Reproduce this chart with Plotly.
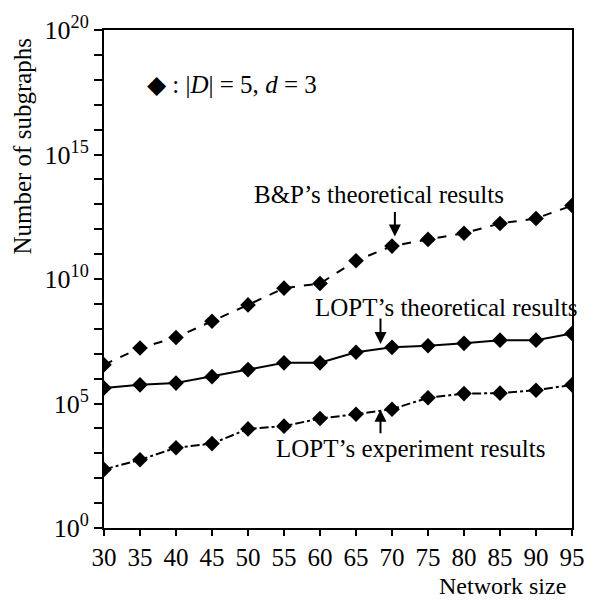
import plotly.graph_objects as go

network_size = [30, 35, 40, 45, 50, 55, 60, 65, 70, 75, 80, 85, 90, 95]
bp_theoretical = [3.6e6, 1.7e7, 4.5e7, 2.0e8, 9.1e8, 4.3e9, 6.6e9, 5.4e10,
                  2.1e11, 3.9e11, 6.9e11, 1.7e12, 2.7e12, 8.9e12]
lopt_theoretical = [4.2e5, 5.6e5, 6.6e5, 1.2e6, 2.3e6, 4.3e6, 4.3e6, 1.15e7,
                    1.8e7, 2.1e7, 2.6e7, 3.5e7, 3.5e7, 6.5e7]
lopt_experiment = [224, 550, 1660, 2450, 9550, 1.23e4, 2.5e4, 3.7e4,
                   5.9e4, 1.7e5, 2.5e5, 2.6e5, 3.4e5, 5.6e5]

x_ticks = list(range(30, 100, 5))
y_exps = list(range(0, 21))
y_tickvals = [float(10.0 ** e) for e in y_exps]
y_ticktext = [f"10<sup>{e}</sup>" if e % 5 == 0 else "" for e in y_exps]

FONT = "Liberation Serif"

fig = go.Figure()
for name, vals, dash in [
    ("B&P's theoretical results", bp_theoretical, "dash"),
    ("LOPT's theoretical results", lopt_theoretical, "solid"),
    ("LOPT's experiment results", lopt_experiment, "dashdot"),
]:
    fig.add_trace(go.Scatter(
        x=network_size, y=vals, mode="lines+markers", name=name,
        line=dict(color="black", width=2, dash=dash),
        marker=dict(symbol="diamond", size=12, color="black"),
        showlegend=False,
    ))

fig.update_layout(
    width=597, height=602,
    margin=dict(l=104, r=14, t=19, b=74),
    paper_bgcolor="white", plot_bgcolor="white",
    font=dict(family=FONT, size=25, color="black"),
)
fig.update_xaxes(
    range=[30, 95], tickvals=x_ticks, ticks="outside", ticklen=6, tickwidth=2,
    tickcolor="black", showline=True, linecolor="black", linewidth=2, mirror=True,
    showgrid=False, zeroline=False, tickfont=dict(size=25, family=FONT),
)
fig.update_yaxes(
    type="log", range=[0, 20], tickvals=y_tickvals, ticktext=y_ticktext,
    ticks="outside", ticklen=8, tickwidth=2, tickcolor="black",
    showline=True, linecolor="black", linewidth=2, mirror=True,
    showgrid=False, zeroline=False, tickfont=dict(size=26, family=FONT),
)

annotations = [
    dict(x=35.7, y=17.8, text="◆ : |<i>D</i>| = 5, <i>d</i> = 3", xanchor="left",
         showarrow=False, font=dict(size=25)),
    dict(x=68.2, y=13.4, text="B&P’s theoretical results", showarrow=False,
         font=dict(size=25)),
    dict(x=77.5, y=8.84, text="LOPT’s theoretical results", showarrow=False,
         font=dict(size=25)),
    dict(x=72.5, y=3.18, text="LOPT’s experiment results", showarrow=False,
         font=dict(size=25)),
    dict(x=70.4, y=11.71, text="", showarrow=True, ax=0, ay=-26, arrowhead=2,
         arrowsize=1.2, arrowwidth=2, arrowcolor="black"),
    dict(x=68.4, y=7.39, text="", showarrow=True, ax=0, ay=-27, arrowhead=2,
         arrowsize=1.2, arrowwidth=2, arrowcolor="black"),
    dict(x=68.4, y=4.75, text="", showarrow=True, ax=0, ay=25, arrowhead=2,
         arrowsize=1.2, arrowwidth=2, arrowcolor="black"),
    dict(x=1, y=-0.116, xref="paper", yref="paper", xanchor="right", yanchor="middle",
         text="Network size", showarrow=False, font=dict(size=24), xshift=-4),
    dict(x=-0.175, y=1.0, xref="paper", yref="paper", xanchor="center", yanchor="top",
         text="Number of subgraphs", textangle=-90, showarrow=False,
         font=dict(size=25), yshift=-6),
]
for a in annotations:
    a.setdefault("xref", "x")
    a.setdefault("yref", "y")
fig.update_layout(annotations=annotations)

fig.write_html("out.html")
